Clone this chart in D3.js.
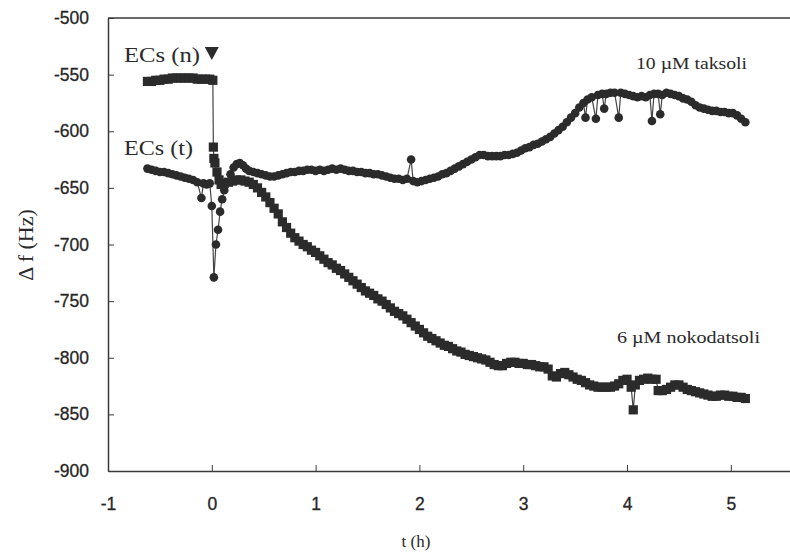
<!DOCTYPE html>
<html>
<head>
<meta charset="utf-8">
<script src="https://cdn.jsdelivr.net/npm/d3@7/dist/d3.min.js"></script>
<style>
html,body{margin:0;padding:0;background:#fff;}
svg{display:block;}
</style>
</head>
<body>
<svg id="chart" width="790" height="552"></svg>
<script>
// ---- Data ----
const xTicks = [-1, 0, 1, 2, 3, 4, 5];
const yTicks = [-500, -550, -600, -650, -700, -750, -800, -850, -900];

// ECs (t) + 10 µM taksoli  (circle markers)
const taxolT = [-0.62,-0.58,-0.54,-0.50,-0.46,-0.42,-0.38,-0.34,-0.30,-0.26,-0.22,-0.18,-0.14,-0.10,-0.08,-0.05,-0.02,
  0.00,0.02,0.04,0.06,0.08,0.10,0.12,0.15,0.18,0.21,0.24,0.27,0.30,0.33,0.36,0.40,0.44,0.48,0.52,0.56,0.60,0.64,0.68,
  0.72,0.76,0.80,0.84,0.88,0.92,0.96,1.00,1.04,1.08,1.12,1.16,1.20,1.24,1.28,1.32,1.36,1.40,1.44,1.48,1.52,1.56,1.60,
  1.64,1.68,1.72,1.76,1.80,1.84,1.88,1.92,1.94,1.98,2.02,2.06,2.10,2.14,2.18,2.22,2.26,2.30,2.34,2.38,2.42,2.46,2.50,
  2.54,2.58,2.62,2.66,2.70,2.74,2.78,2.82,2.86,2.90,2.94,2.98,3.02,3.06,3.10,3.14,3.18,3.22,3.26,3.30,3.34,3.38,3.42,
  3.46,3.50,3.54,3.58,3.60,3.62,3.66,3.70,3.72,3.76,3.78,3.80,3.84,3.88,3.92,3.94,3.98,4.02,4.06,4.10,4.14,4.18,4.22,
  4.24,4.26,4.30,4.32,4.34,4.38,4.42,4.46,4.50,4.54,4.58,4.62,4.66,4.70,4.74,4.78,4.82,4.86,4.90,4.94,4.98,5.02,5.06,
  5.10,5.14];
const taxolF = [-633,-634,-635,-636,-636,-637,-638,-639,-640,-641,-642,-643,-645,-659,-646,-647,-646,
  -666,-729,-700,-687,-671,-660,-652,-645,-638,-632,-629,-628,-630,-633,-635,-636,-637,-638,-639,-640,-640,-639,-638,
  -637,-636,-636,-635,-635,-634,-634,-635,-634,-635,-634,-633,-634,-633,-634,-635,-635,-636,-636,-637,-637,-638,-638,
  -639,-640,-641,-642,-642,-643,-642,-625,-644,-645,-644,-643,-642,-641,-640,-638,-637,-635,-633,-631,-629,-627,-625,
  -623,-621,-621,-622,-622,-622,-622,-621,-621,-620,-619,-617,-615,-614,-612,-611,-609,-607,-605,-602,-599,-596,-592,
  -588,-584,-579,-575,-588,-572,-570,-589,-568,-567,-580,-567,-566,-566,-588,-566,-567,-568,-569,-570,-569,-570,-568,
  -591,-567,-567,-585,-568,-566,-567,-568,-569,-571,-572,-574,-577,-579,-580,-581,-582,-582,-583,-583,-584,-584,-586,
  -589,-592];

// ECs (n) + 6 µM nokodatsoli  (square markers)
const nocoT = [-0.62,-0.58,-0.54,-0.50,-0.46,-0.42,-0.38,-0.34,-0.30,-0.26,-0.22,-0.18,-0.14,-0.10,-0.06,-0.02,0.01,
  0.015,0.02,0.03,0.05,0.07,0.09,0.12,0.16,0.20,0.24,0.28,0.32,0.36,0.40,0.44,0.48,0.52,0.56,0.60,0.64,0.68,0.72,0.76,
  0.80,0.84,0.88,0.92,0.96,1.00,1.04,1.08,1.12,1.16,1.20,1.24,1.28,1.32,1.36,1.40,1.44,1.48,1.52,1.56,1.60,1.64,1.68,
  1.72,1.76,1.80,1.84,1.88,1.92,1.96,2.00,2.04,2.08,2.12,2.16,2.20,2.24,2.28,2.32,2.36,2.40,2.44,2.48,2.52,2.56,2.60,
  2.64,2.68,2.72,2.76,2.80,2.84,2.88,2.92,2.96,3.00,3.04,3.08,3.12,3.16,3.20,3.24,3.28,3.32,3.36,3.40,3.44,3.48,3.52,
  3.56,3.60,3.64,3.68,3.72,3.76,3.80,3.84,3.88,3.92,3.96,4.00,4.04,4.06,4.08,4.12,4.16,4.20,4.24,4.28,4.30,4.34,4.38,
  4.42,4.46,4.50,4.54,4.58,4.62,4.66,4.70,4.74,4.78,4.82,4.86,4.90,4.94,4.98,5.02,5.06,5.10,5.14];
const nocoF = [-556,-556,-555,-555,-554,-554,-553,-553,-553,-553,-553,-553,-554,-554,-554,-554,-555,
  -614,-624,-628,-636,-643,-647,-646,-645,-644,-643,-643,-644,-645,-647,-650,-654,-658,-663,-668,-673,-680,-685,-690,
  -694,-697,-700,-702,-705,-707,-710,-713,-716,-718,-721,-723,-726,-729,-732,-735,-738,-741,-743,-745,-748,-750,-753,
  -756,-759,-761,-763,-766,-769,-772,-775,-778,-781,-783,-785,-787,-789,-790,-792,-794,-795,-797,-798,-799,-800,-801,
  -802,-804,-806,-807,-807,-805,-804,-804,-805,-805,-806,-806,-807,-808,-808,-810,-816,-817,-814,-813,-815,-817,-819,
  -820,-822,-824,-825,-826,-826,-826,-826,-825,-823,-820,-819,-826,-846,-824,-820,-819,-818,-819,-819,-829,-829,-828,
  -826,-824,-824,-826,-828,-829,-830,-831,-832,-833,-834,-834,-833,-833,-834,-834,-835,-835,-836];

// ---- Chart ----
const svg = d3.select("#chart");
const mLeft = 108, mRight = 790, mTop = 18, mBottom = 471;
const x = d3.scaleLinear().domain([-1, 5.57]).range([mLeft, mRight]);
const y = d3.scaleLinear().domain([-900, -500]).range([mBottom, mTop]);

const ink = "#2b2b2b";
const axisCol = "#3a3a3a";

// top frame line
svg.append("line").attr("x1", mLeft).attr("x2", mRight).attr("y1", mTop).attr("y2", mTop)
  .attr("stroke", axisCol).attr("stroke-width", 1.5);

const yAxis = d3.axisLeft(y).tickValues(yTicks).tickSizeInner(-6).tickSizeOuter(0).tickPadding(19)
  .tickFormat(d3.format("d"));
const gy = svg.append("g").attr("transform", `translate(${mLeft},0)`).call(yAxis);
const xAxis = d3.axisBottom(x).tickValues(xTicks).tickSizeInner(-6).tickSizeOuter(0).tickPadding(27)
  .tickFormat(d3.format("d"));
const gx = svg.append("g").attr("transform", `translate(0,${mBottom})`).call(xAxis);

[gx, gy].forEach(g => {
  g.select(".domain").attr("stroke", axisCol).attr("stroke-width", 1.5);
  g.selectAll(".tick line").attr("stroke", axisCol).attr("stroke-width", 1);
  g.selectAll(".tick text").attr("fill", "#262626")
    .style("font-family", "'Liberation Sans', Arial, sans-serif").style("font-size", "17.5px")
    .attr("stroke", "#262626").attr("stroke-width", 0.3);
});
gx.selectAll(".tick text").text(d => d < 0 ? "-" + Math.abs(d) : d);
gy.selectAll(".tick text").text(d => "-" + Math.abs(d));

// series
const taxol = taxolT.map((t, i) => ({t, f: taxolF[i]}));
const noco = nocoT.map((t, i) => ({t, f: nocoF[i]}));
const line = d3.line().x(d => x(d.t)).y(d => y(d.f));

svg.append("path").datum(taxol).attr("d", line).attr("fill", "none")
  .attr("stroke", "#444").attr("stroke-width", 1.2);
svg.append("path").datum(noco).attr("d", line).attr("fill", "none")
  .attr("stroke", "#444").attr("stroke-width", 1.2);

svg.append("g").selectAll("circle").data(taxol).join("circle")
  .attr("cx", d => x(d.t)).attr("cy", d => y(d.f)).attr("r", 4.3).attr("fill", ink);
svg.append("g").selectAll("rect").data(noco).join("rect")
  .attr("x", d => x(d.t) - 4.6).attr("y", d => y(d.f) - 4.6).attr("width", 9.2).attr("height", 9.2).attr("fill", ink);

// annotations
const serif = "'Liberation Serif', 'Times New Roman', serif";
function label(txt, xx, yy, size, len) {
  const t = svg.append("text").attr("x", xx).attr("y", yy).text(txt)
    .attr("fill", "#2a2a2a").style("font-family", serif).style("font-size", size + "px");
  if (len) t.attr("textLength", len).attr("lengthAdjust", "spacingAndGlyphs");
  return t;
}
label("ECs (n)", 124, 62, 21, 76);
label("ECs (t)", 124, 155, 21, 69);
label("10 \u00B5M taksoli", 636, 69, 16, 111);
label("6 \u00B5M nokodatsoli", 617, 343, 16, 143);

// addition marker triangle at t = 0
const tx = x(0), ty = 47;
svg.append("path").attr("d", `M${tx-7},${ty} L${tx+7},${ty} L${tx},${ty+13} Z`).attr("fill", ink);

// axis titles
svg.append("text").attr("x", 416).attr("y", 547).attr("text-anchor", "middle").text("t (h)")
  .attr("fill", "#2a2a2a").style("font-family", serif).style("font-size", "17px");
svg.append("text").attr("transform", "translate(33,245) rotate(-90)").attr("text-anchor", "middle")
  .text("\u0394 f (Hz)").attr("fill", "#2a2a2a").style("font-family", serif).style("font-size", "22px");
</script>
</body>
</html>
